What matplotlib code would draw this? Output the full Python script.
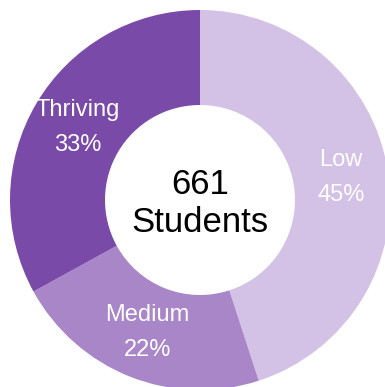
import numpy as np
import matplotlib
matplotlib.use("Agg")
from matplotlib import pyplot as plt

# data
categories = ["Low", "Medium", "Thriving"]
shares = [45, 22, 33]
total_students = 661
colors = ["#D4C2E6", "#A886C7", "#7A4AA9"]

plt.rcParams["font.family"] = ["Liberation Sans", "DejaVu Sans"]

fig = plt.figure(figsize=(3.85, 3.87), dpi=100)
W, H = 385, 387
cx, cy, r = 200, 200, 190
ax = fig.add_axes([(cx - r) / W, (H - cy - r) / H, 2 * r / W, 2 * r / H])
ax.set_xlim(-1, 1)
ax.set_ylim(-1, 1)
ax.axis("off")

wedges, _ = ax.pie(
    shares,
    colors=colors,
    startangle=90,
    counterclock=False,
    radius=1,
    wedgeprops=dict(width=0.5, linewidth=0),
)
ax.set_xlim(-1, 1)
ax.set_ylim(-1, 1)

# labels inside the ring
for w, name, pct in zip(wedges, categories, shares):
    mid = np.deg2rad((w.theta1 + w.theta2) / 2)
    x, y = 0.75 * np.cos(mid), 0.75 * np.sin(mid)
    ax.text(x, y + 0.092, name, ha="center", va="center", color="white", fontsize=17)
    ax.text(x, y - 0.092, f"{pct}%", ha="center", va="center", color="white", fontsize=17)

# center text
ax.text(0, 0.032, str(total_students), ha="center", va="baseline", fontsize=25)
ax.text(0, -0.168, "Students", ha="center", va="baseline", fontsize=25)

fig.savefig("out.png", dpi=100)
